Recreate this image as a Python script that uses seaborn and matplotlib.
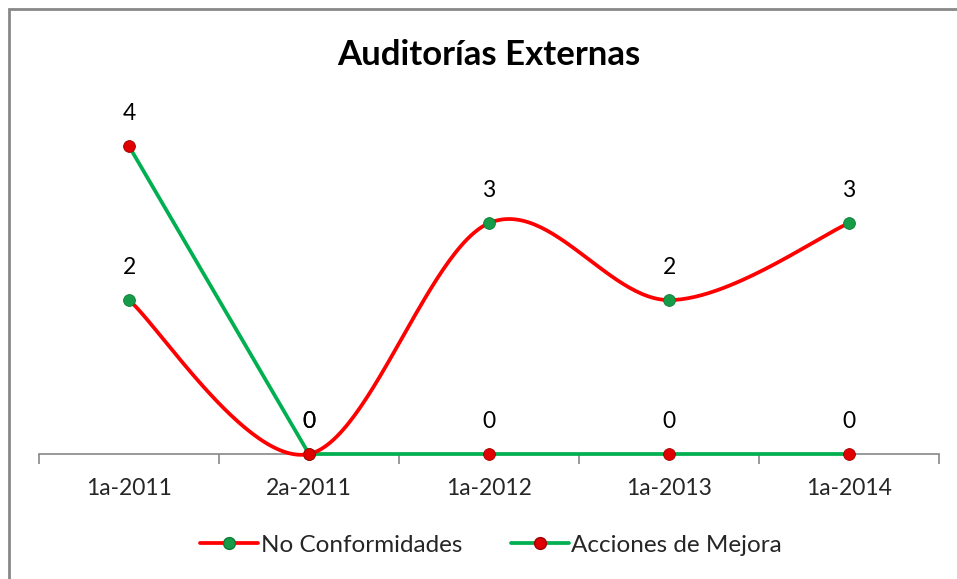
import numpy as np
import pandas as pd
import matplotlib.pyplot as plt
import seaborn as sns
from matplotlib.lines import Line2D
from matplotlib.patches import Rectangle

# Data
periods = ["1a-2011", "2a-2011", "1a-2012", "1a-2013", "1a-2014"]
no_conformidades = [2, 0, 3, 2, 3]
acciones_mejora = [4, 0, 0, 0, 0]

RED = "#ff0000"
GREEN = "#00b050"
RED_MK = "#e00000"
GREEN_MK = "#169c48"


def smooth_curve(y, n=60):
    """Excel-like smoothed line (cardinal Bezier through the points)."""
    y = np.asarray(y, dtype=float)
    x = np.arange(len(y), dtype=float)
    pts = np.column_stack([x, y])
    pad = np.vstack([pts[0], pts, pts[-1]])
    out = []
    t = np.linspace(0, 1, n)[:, None]
    for i in range(len(pts) - 1):
        p0, p1, p2, p3 = pad[i], pad[i + 1], pad[i + 2], pad[i + 3]
        c1 = p1 + (p2 - p0) / 6
        c2 = p2 - (p3 - p1) / 6
        seg = ((1 - t) ** 3) * p1 + 3 * ((1 - t) ** 2) * t * c1 \
            + 3 * (1 - t) * t ** 2 * c2 + t ** 3 * p2
        out.append(seg if i == 0 else seg[1:])
    seg = np.vstack(out)
    return seg[:, 0], seg[:, 1]


sns.set_theme(style="white")
plt.rcParams["font.family"] = ["Lato", "DejaVu Sans"]

fig = plt.figure(figsize=(9.57, 5.79), dpi=100)
ax = fig.add_axes([39 / 957, 125 / 579, 900 / 957, 354 / 579])

xs, ys = smooth_curve(no_conformidades)
df_nc = pd.DataFrame({"x": xs, "y": ys})
df_am = pd.DataFrame({"x": np.arange(len(periods)), "y": acciones_mejora})

sns.lineplot(data=df_am, x="x", y="y", color=GREEN, linewidth=2.7,
             ax=ax, zorder=3, clip_on=False)
sns.lineplot(data=df_nc, x="x", y="y", color=RED, linewidth=2.7,
             ax=ax, zorder=3, clip_on=False, sort=False)

pts = pd.DataFrame({"x": np.arange(len(periods)),
                    "nc": no_conformidades, "am": acciones_mejora})
ax.plot(pts["x"], pts["nc"], "o", color=GREEN_MK, markersize=8.5,
        markeredgecolor="#0d7a35", markeredgewidth=0.6, zorder=5, clip_on=False)
ax.plot(pts["x"], pts["am"], "o", color=RED_MK, markersize=8.5,
        markeredgecolor="#a00000", markeredgewidth=0.6, zorder=6, clip_on=False)

# data labels
for i, (a, b) in enumerate(zip(no_conformidades, acciones_mejora)):
    ax.annotate(str(a), (i, a), xytext=(0, 16), textcoords="offset points",
                ha="center", va="bottom", fontsize=16.5, color="black")
    ax.annotate(str(b), (i, b), xytext=(0, 16), textcoords="offset points",
                ha="center", va="bottom", fontsize=16.5, color="black")

ax.set_xlim(-0.5, len(periods) - 0.5)
ax.set_ylim(0, 4.6)
ax.set_xticks(range(len(periods)))
ax.set_xticklabels(periods, fontsize=16.5)
ax.set_xticks(np.arange(-0.5, len(periods)), minor=True)
ax.tick_params(axis="x", which="major", length=0, pad=17)
ax.tick_params(axis="x", which="minor", length=7, width=1.2, color="#888888",
               direction="out", bottom=True)
ax.set_yticks([])
ax.set_xlabel("")
ax.set_ylabel("")
for s in ["top", "right", "left"]:
    ax.spines[s].set_visible(False)
ax.spines["bottom"].set_color("#888888")
ax.spines["bottom"].set_linewidth(1.2)
ax.spines["bottom"].set_zorder(1)

fig.text(489 / 957, 1 - 55 / 579, "Auditorías Externas", ha="center",
         va="center", fontsize=25, fontweight="bold", color="black")

handles = [
    Line2D([0], [0], color=RED, linewidth=2.7, marker="o", markersize=8.5,
           markerfacecolor=GREEN_MK, markeredgecolor="#0d7a35"),
    Line2D([0], [0], color=GREEN, linewidth=2.7, marker="o", markersize=8.5,
           markerfacecolor=RED_MK, markeredgecolor="#a00000"),
]
fig.legend(handles, ["No Conformidades", "Acciones de Mejora"],
           loc="center", bbox_to_anchor=(491 / 957, 1 - 545 / 579),
           ncol=2, frameon=False, fontsize=17.5, handlelength=2.4,
           handletextpad=0.1, columnspacing=2.0)

# chart frame
fig.patches.append(Rectangle((9 / 957, -0.1), 1.2, 1 - 9 / 579 + 0.1,
                             transform=fig.transFigure, fill=False,
                             edgecolor="#888888", linewidth=2))

fig.savefig("out.png", dpi=100)
